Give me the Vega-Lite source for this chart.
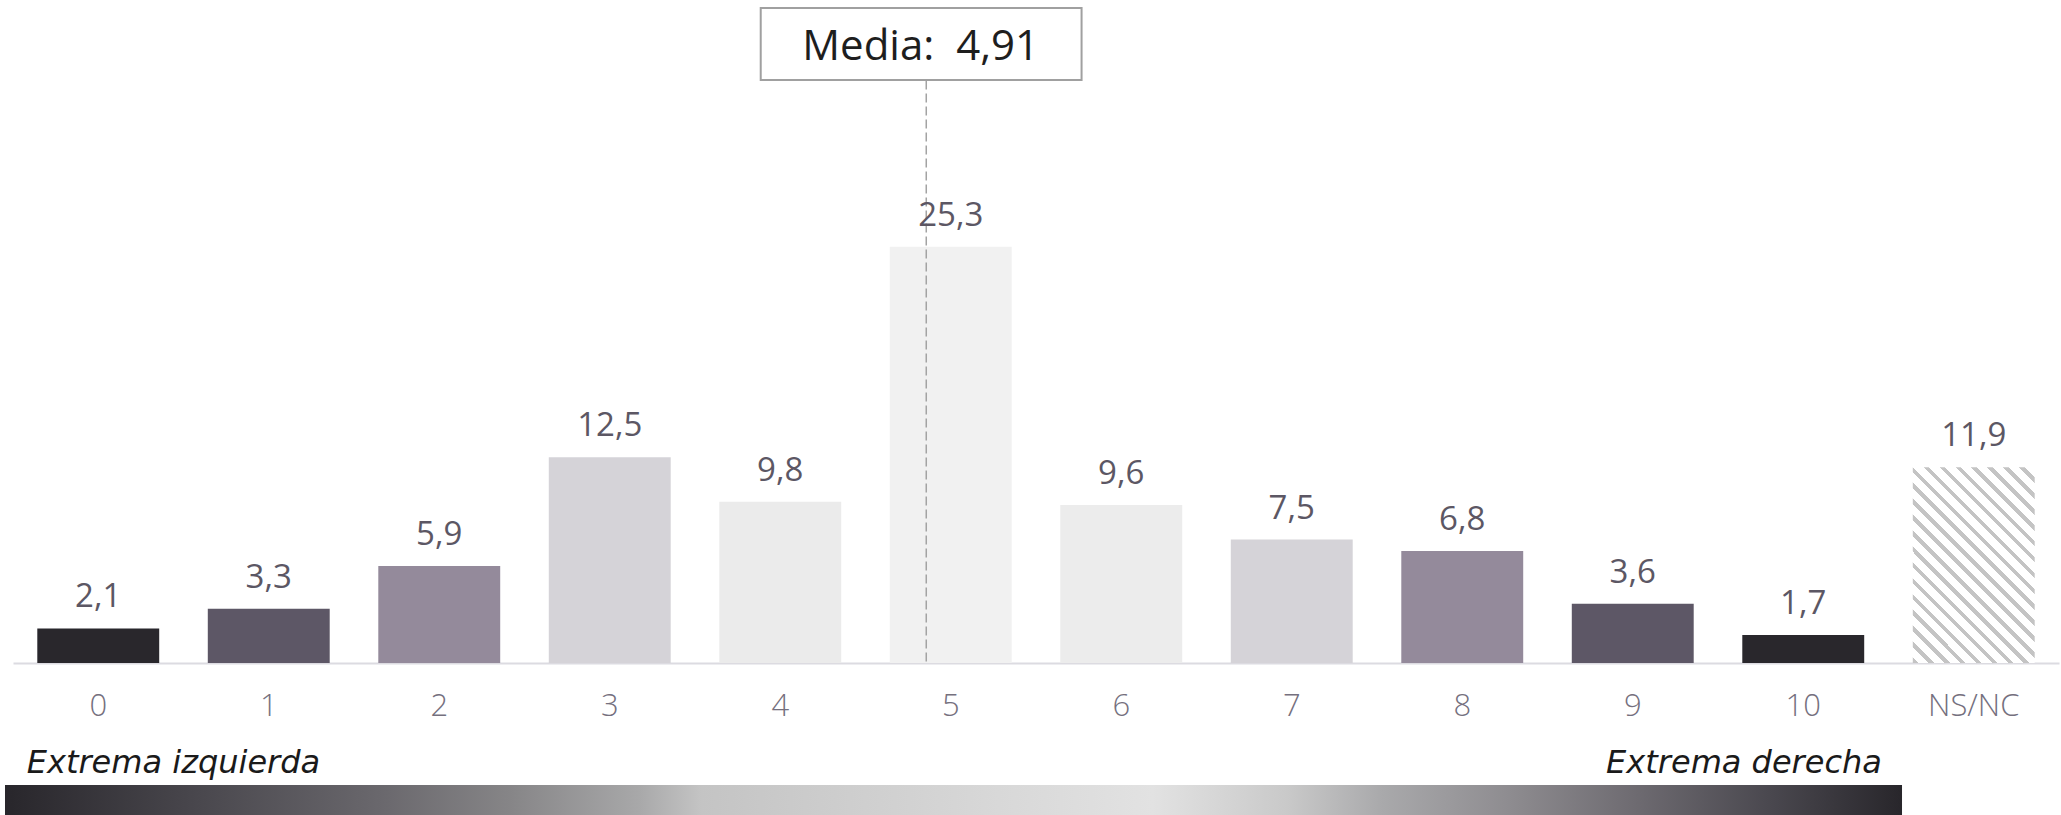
{
  "$schema": "https://vega.github.io/schema/vega-lite/v6.json",
  "autosize": {"type": "none"},
  "width": 2046,
  "height": 655,
  "padding": {"left": 13, "top": 8, "right": 2, "bottom": 152},
  "background": "white",
  "config": {
    "view": {"stroke": null},
    "font": "Open Sans",
    "locale": {"number": {"decimal": ",", "thousands": ".", "grouping": [3], "currency": ["", " €"]}}
  },
  "datasets": {
    "votos": [
      {"cat": "0", "value": 2.1},
      {"cat": "1", "value": 3.3},
      {"cat": "2", "value": 5.9},
      {"cat": "3", "value": 12.5},
      {"cat": "4", "value": 9.8},
      {"cat": "5", "value": 25.3},
      {"cat": "6", "value": 9.6},
      {"cat": "7", "value": 7.5},
      {"cat": "8", "value": 6.8},
      {"cat": "9", "value": 3.6},
      {"cat": "10", "value": 1.7},
      {"cat": "NS/NC", "value": 11.9}
    ],
    "media": [{"media": 4.91, "label": "Media:\u00a0 4,91"}]
  },
  "resolve": {"scale": {"x": "independent"}},
  "layer": [
    {
      "data": {"name": "votos"},
      "transform": [{"filter": "datum.cat !== 'NS/NC'"}],
      "mark": {"type": "bar"},
      "encoding": {
        "x": {
          "field": "cat", "type": "nominal", "sort": null,
          "scale": {"domain": ["0","1","2","3","4","5","6","7","8","9","10","NS/NC"], "paddingInner": 0.285, "paddingOuter": 0.1425},
          "axis": {
            "title": null, "labelAngle": 0, "ticks": false, "tickSize": 0,
            "domainColor": "#dcdbe1", "domainWidth": 2,
            "labelFont": "Open Sans", "labelFontSize": 31, "labelFontWeight": 300,
            "labelColor": "#75707e", "labelBaseline": "alphabetic", "labelPadding": 52
          }
        },
        "y": {"field": "value", "type": "quantitative", "scale": {"domain": [0, 39.8], "nice": false}, "axis": null},
        "color": {
          "field": "cat", "type": "nominal", "legend": null,
          "scale": {
            "domain": ["0","1","2","3","4","5","6","7","8","9","10"],
            "range": ["#29272c","#5d5766","#948a9b","#d5d3d8","#ebebeb","#f1f1f1","#ececec","#d5d3d8","#948a9b","#5d5766","#29272c"]
          }
        }
      }
    },
    {
      "data": {"name": "votos"},
      "transform": [{"filter": "datum.cat === 'NS/NC'"}],
      "mark": {
        "type": "bar",
        "color": {
          "gradient": "linear", "x1": 0, "y1": 1, "x2": 0.728, "y2": -0.169,
          "stops": [
            {"offset": 0.00, "color": "#c4c4c4"}, {"offset": 0.0175, "color": "#c4c4c4"}, {"offset": 0.0175, "color": "#ffffff"}, {"offset": 0.05, "color": "#ffffff"},
            {"offset": 0.05, "color": "#c4c4c4"}, {"offset": 0.0675, "color": "#c4c4c4"}, {"offset": 0.0675, "color": "#ffffff"}, {"offset": 0.10, "color": "#ffffff"},
            {"offset": 0.10, "color": "#c4c4c4"}, {"offset": 0.1175, "color": "#c4c4c4"}, {"offset": 0.1175, "color": "#ffffff"}, {"offset": 0.15, "color": "#ffffff"},
            {"offset": 0.15, "color": "#c4c4c4"}, {"offset": 0.1675, "color": "#c4c4c4"}, {"offset": 0.1675, "color": "#ffffff"}, {"offset": 0.20, "color": "#ffffff"},
            {"offset": 0.20, "color": "#c4c4c4"}, {"offset": 0.2175, "color": "#c4c4c4"}, {"offset": 0.2175, "color": "#ffffff"}, {"offset": 0.25, "color": "#ffffff"},
            {"offset": 0.25, "color": "#c4c4c4"}, {"offset": 0.2675, "color": "#c4c4c4"}, {"offset": 0.2675, "color": "#ffffff"}, {"offset": 0.30, "color": "#ffffff"},
            {"offset": 0.30, "color": "#c4c4c4"}, {"offset": 0.3175, "color": "#c4c4c4"}, {"offset": 0.3175, "color": "#ffffff"}, {"offset": 0.35, "color": "#ffffff"},
            {"offset": 0.35, "color": "#c4c4c4"}, {"offset": 0.3675, "color": "#c4c4c4"}, {"offset": 0.3675, "color": "#ffffff"}, {"offset": 0.40, "color": "#ffffff"},
            {"offset": 0.40, "color": "#c4c4c4"}, {"offset": 0.4175, "color": "#c4c4c4"}, {"offset": 0.4175, "color": "#ffffff"}, {"offset": 0.45, "color": "#ffffff"},
            {"offset": 0.45, "color": "#c4c4c4"}, {"offset": 0.4675, "color": "#c4c4c4"}, {"offset": 0.4675, "color": "#ffffff"}, {"offset": 0.50, "color": "#ffffff"},
            {"offset": 0.50, "color": "#c4c4c4"}, {"offset": 0.5175, "color": "#c4c4c4"}, {"offset": 0.5175, "color": "#ffffff"}, {"offset": 0.55, "color": "#ffffff"},
            {"offset": 0.55, "color": "#c4c4c4"}, {"offset": 0.5675, "color": "#c4c4c4"}, {"offset": 0.5675, "color": "#ffffff"}, {"offset": 0.60, "color": "#ffffff"},
            {"offset": 0.60, "color": "#c4c4c4"}, {"offset": 0.6175, "color": "#c4c4c4"}, {"offset": 0.6175, "color": "#ffffff"}, {"offset": 0.65, "color": "#ffffff"},
            {"offset": 0.65, "color": "#c4c4c4"}, {"offset": 0.6675, "color": "#c4c4c4"}, {"offset": 0.6675, "color": "#ffffff"}, {"offset": 0.70, "color": "#ffffff"},
            {"offset": 0.70, "color": "#c4c4c4"}, {"offset": 0.7175, "color": "#c4c4c4"}, {"offset": 0.7175, "color": "#ffffff"}, {"offset": 0.75, "color": "#ffffff"},
            {"offset": 0.75, "color": "#c4c4c4"}, {"offset": 0.7675, "color": "#c4c4c4"}, {"offset": 0.7675, "color": "#ffffff"}, {"offset": 0.80, "color": "#ffffff"},
            {"offset": 0.80, "color": "#c4c4c4"}, {"offset": 0.8175, "color": "#c4c4c4"}, {"offset": 0.8175, "color": "#ffffff"}, {"offset": 0.85, "color": "#ffffff"},
            {"offset": 0.85, "color": "#c4c4c4"}, {"offset": 0.8675, "color": "#c4c4c4"}, {"offset": 0.8675, "color": "#ffffff"}, {"offset": 0.90, "color": "#ffffff"},
            {"offset": 0.90, "color": "#c4c4c4"}, {"offset": 0.9175, "color": "#c4c4c4"}, {"offset": 0.9175, "color": "#ffffff"}, {"offset": 0.95, "color": "#ffffff"},
            {"offset": 0.95, "color": "#c4c4c4"}, {"offset": 0.9675, "color": "#c4c4c4"}, {"offset": 0.9675, "color": "#ffffff"}, {"offset": 1.00, "color": "#ffffff"}
          ]
        }
      },
      "encoding": {
        "x": {
          "field": "cat", "type": "nominal", "sort": null,
          "scale": {"domain": ["0","1","2","3","4","5","6","7","8","9","10","NS/NC"], "paddingInner": 0.285, "paddingOuter": 0.1425},
          "axis": null
        },
        "y": {"field": "value", "type": "quantitative", "scale": {"domain": [0, 39.8], "nice": false}, "axis": null}
      }
    },
    {
      "data": {"name": "media"},
      "mark": {"type": "rule", "color": "#a3a3a3", "strokeWidth": 1.5, "strokeDash": [9, 4]},
      "encoding": {
        "x": {"field": "media", "type": "quantitative", "scale": {"domain": [0, 11], "nice": false, "zero": false}, "axis": null},
        "y": {"datum": 35.4, "type": "quantitative", "scale": {"domain": [0, 39.8], "nice": false}, "axis": null},
        "y2": {"datum": 0}
      }
    },
    {
      "data": {"name": "votos"},
      "mark": {"type": "text", "font": "Open Sans", "fontSize": 33, "color": "#5c5764", "baseline": "alphabetic", "dy": -21},
      "encoding": {
        "x": {
          "field": "cat", "type": "nominal", "sort": null,
          "scale": {"domain": ["0","1","2","3","4","5","6","7","8","9","10","NS/NC"], "paddingInner": 0.285, "paddingOuter": 0.1425},
          "axis": null
        },
        "y": {"field": "value", "type": "quantitative", "scale": {"domain": [0, 39.8], "nice": false}, "axis": null},
        "text": {"field": "value", "type": "quantitative", "format": ".1f"}
      }
    },
    {
      "data": {"name": "media"},
      "mark": {"type": "rect", "fill": "#ffffff", "stroke": "#a0a0a0", "strokeWidth": 2},
      "encoding": {
        "x": {"datum": 4.02, "type": "quantitative", "scale": {"domain": [0, 11], "nice": false, "zero": false}, "axis": null},
        "x2": {"datum": 5.745},
        "y": {"datum": 39.8, "type": "quantitative", "scale": {"domain": [0, 39.8], "nice": false}, "axis": null},
        "y2": {"datum": 35.43}
      }
    },
    {
      "data": {"name": "media"},
      "mark": {"type": "text", "font": "Open Sans", "fontSize": 42, "color": "#1e1e1e", "align": "center", "baseline": "alphabetic"},
      "encoding": {
        "x": {"datum": 4.88, "type": "quantitative", "scale": {"domain": [0, 11], "nice": false, "zero": false}, "axis": null},
        "y": {"datum": 36.64, "type": "quantitative", "scale": {"domain": [0, 39.8], "nice": false}, "axis": null},
        "text": {"field": "label"}
      }
    },
    {
      "data": {"name": "media"},
      "mark": {"type": "text", "font": "DejaVu Sans", "fontSize": 32, "fontStyle": "italic", "color": "#1a1a1a", "align": "left", "baseline": "alphabetic"},
      "encoding": {
        "x": {"datum": 0.074, "type": "quantitative", "scale": {"domain": [0, 11], "nice": false, "zero": false}, "axis": null},
        "y": {"datum": -6.68, "type": "quantitative", "scale": {"domain": [0, 39.8], "nice": false}, "axis": null},
        "text": {"value": "Extrema izquierda"}
      }
    },
    {
      "data": {"name": "media"},
      "mark": {"type": "text", "font": "DejaVu Sans", "fontSize": 32, "fontStyle": "italic", "color": "#1a1a1a", "align": "right", "baseline": "alphabetic"},
      "encoding": {
        "x": {"datum": 10.048, "type": "quantitative", "scale": {"domain": [0, 11], "nice": false, "zero": false}, "axis": null},
        "y": {"datum": -6.68, "type": "quantitative", "scale": {"domain": [0, 39.8], "nice": false}, "axis": null},
        "text": {"value": "Extrema derecha"}
      }
    },
    {
      "data": {"name": "media"},
      "mark": {
        "type": "rect",
        "color": {
          "gradient": "linear", "x1": 0, "y1": 0, "x2": 1, "y2": 0,
          "stops": [
            {"offset": 0, "color": "#28262b"},
            {"offset": 0.098, "color": "#48464c"},
            {"offset": 0.199, "color": "#6a686d"},
            {"offset": 0.266, "color": "#868587"},
            {"offset": 0.334, "color": "#a8a8a9"},
            {"offset": 0.367, "color": "#c4c4c4"},
            {"offset": 0.524, "color": "#d8d8d8"},
            {"offset": 0.605, "color": "#e2e2e2"},
            {"offset": 0.676, "color": "#c9c9c9"},
            {"offset": 0.726, "color": "#a9a9ab"},
            {"offset": 0.793, "color": "#8e8c90"},
            {"offset": 0.861, "color": "#6d6a70"},
            {"offset": 0.928, "color": "#4b4950"},
            {"offset": 1, "color": "#28262b"}
          ]
        }
      },
      "encoding": {
        "x": {"datum": -0.043, "type": "quantitative", "scale": {"domain": [0, 11], "nice": false, "zero": false}, "axis": null},
        "x2": {"datum": 10.156},
        "y": {"datum": -7.41, "type": "quantitative", "scale": {"domain": [0, 39.8], "nice": false}, "axis": null},
        "y2": {"datum": -9.4}
      }
    }
  ]
}
